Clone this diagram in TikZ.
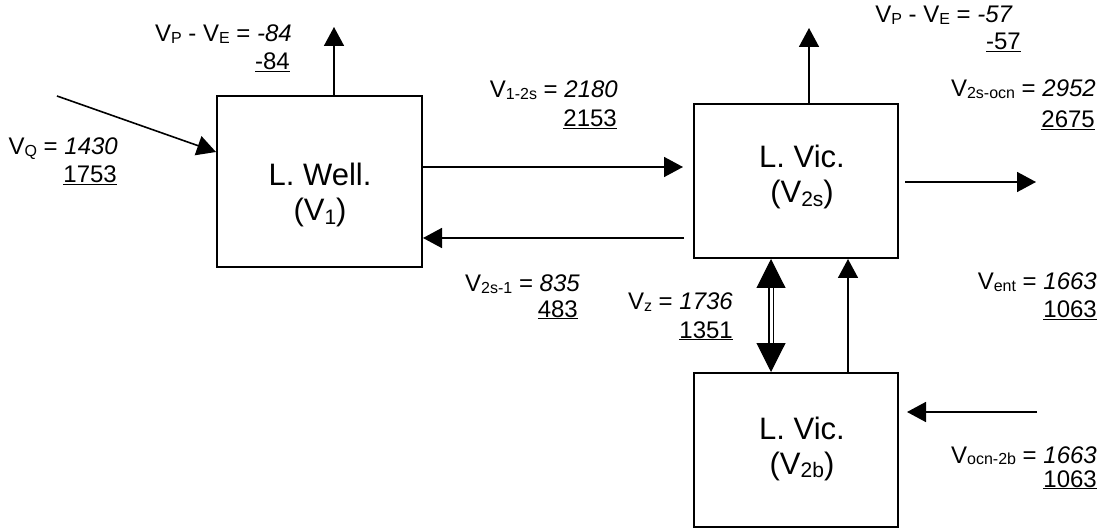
\documentclass[tikz,border=0pt]{standalone}
\usepackage{fontspec}
\setmainfont{Liberation Sans}
\usetikzlibrary{arrows.meta}
\newcommand\lowsub[1]{\raisebox{-0.08em}{\fontsize{16}{16}\selectfont #1}}
\newcommand\boxsub[1]{\raisebox{-0.1em}{\fontsize{21}{21}\selectfont #1}}
\begin{document}
\begin{tikzpicture}[x=1pt,y=-1pt,
  box/.style={draw, line width=2pt, inner sep=0pt},
  boxtxt/.style={font=\fontsize{31}{36}\selectfont, inner sep=0pt, anchor=base},
  lab/.style={font=\fontsize{24}{28}\selectfont, inner sep=0pt, anchor=base east},
  arr/.style={line width=1.6pt, -{Triangle[length=19pt,width=20pt]}},
  bigarr/.style={line width=1.1pt, double=white, double distance=3pt,
     {Triangle[length=29pt,width=29pt]}-{Triangle[length=29pt,width=29pt]}}]
\useasboundingbox (0,0) rectangle (1103,529);
% boxes
\node[box, minimum width=205pt, minimum height=171pt] (b1) at (319.5,181.5) {};
\node[box, minimum width=204pt, minimum height=154pt] (b2) at (796,181) {};
\node[box, minimum width=204pt, minimum height=154pt] (b3) at (796,450) {};
% box texts
\node[boxtxt] (t1a) at (320,186) {L. Well.};
\node[boxtxt] (t1b) at (320,221) {(V\boxsub{1})};
\node[boxtxt] (t2a) at (802,168) {L. Vic.};
\node[boxtxt] (t2b) at (802,203) {(V\boxsub{2s})};
\node[boxtxt] (t3a) at (802,439) {L. Vic.};
\node[boxtxt] (t3b) at (802,474) {(V\boxsub{2b})};
% free arrow ends
\coordinate (up1) at (334,27);
\coordinate (q0) at (57,96);
\coordinate (q1) at (0,152);
\coordinate (a12) at (683,167);
\coordinate (a21) at (684,238);
\coordinate (up2) at (809,28);
\coordinate (o0) at (905,182);
\coordinate (o1) at (1036,182);
\coordinate (vz) at (771,0);
\coordinate (ve) at (848,0);
\coordinate (i0) at (1037,412);
\coordinate (i1) at (907,412);
% connectors
\draw[arr] (b1.north -| up1) -- (up1);
\draw[arr] (q0) -- (b1.west |- q1);
\draw[arr] (b1.east |- a12) -- (a12);
\draw[arr] (a21) -- (b1.east |- a21);
\draw[arr] (b2.north -| up2) -- (up2);
\draw[arr] (o0) -- (o1);
\draw[bigarr] (b2.south -| vz) -- (b3.north -| vz);
\draw[arr] (b3.north -| ve) -- (b2.south -| ve);
\draw[arr] (i0) -- (i1);
% labels
\node[lab] (l1a) at (292,42) {V\lowsub{P} - V\lowsub{E} = \textit{-84}};
\node[lab] (l1b) at (290,70) {\underline{-84}};
\node[lab] (l2a) at (118,155) {V\lowsub{Q} = \textit{1430}};
\node[lab] (l2b) at (117,183) {\underline{1753}};
\node[lab] (l3a) at (618,98) {V\lowsub{1-2s} = \textit{2180}};
\node[lab] (l3b) at (617,127) {\underline{2153}};
\node[lab] (l4a) at (1013,23) {V\lowsub{P} - V\lowsub{E} = \textit{-57}};
\node[lab] (l4b) at (1021,50) {\underline{-57}};
\node[lab] (l5a) at (1096,97) {V\lowsub{2s-ocn} = \textit{2952}};
\node[lab] (l5b) at (1095,128) {\underline{2675}};
\node[lab] (l6a) at (580,292) {V\lowsub{2s-1} = \textit{835}};
\node[lab] (l6b) at (578,317) {\underline{483}};
\node[lab] (l7a) at (733,310) {V\lowsub{z} = \textit{1736}};
\node[lab] (l7b) at (733,338) {\underline{1351}};
\node[lab] (l8a) at (1097,290) {V\lowsub{ent} = \textit{1663}};
\node[lab] (l8b) at (1097,318) {\underline{1063}};
\node[lab] (l9a) at (1097,463) {V\lowsub{ocn-2b} = \textit{1663}};
\node[lab] (l9b) at (1097,487) {\underline{1063}};
\end{tikzpicture}
\end{document}
